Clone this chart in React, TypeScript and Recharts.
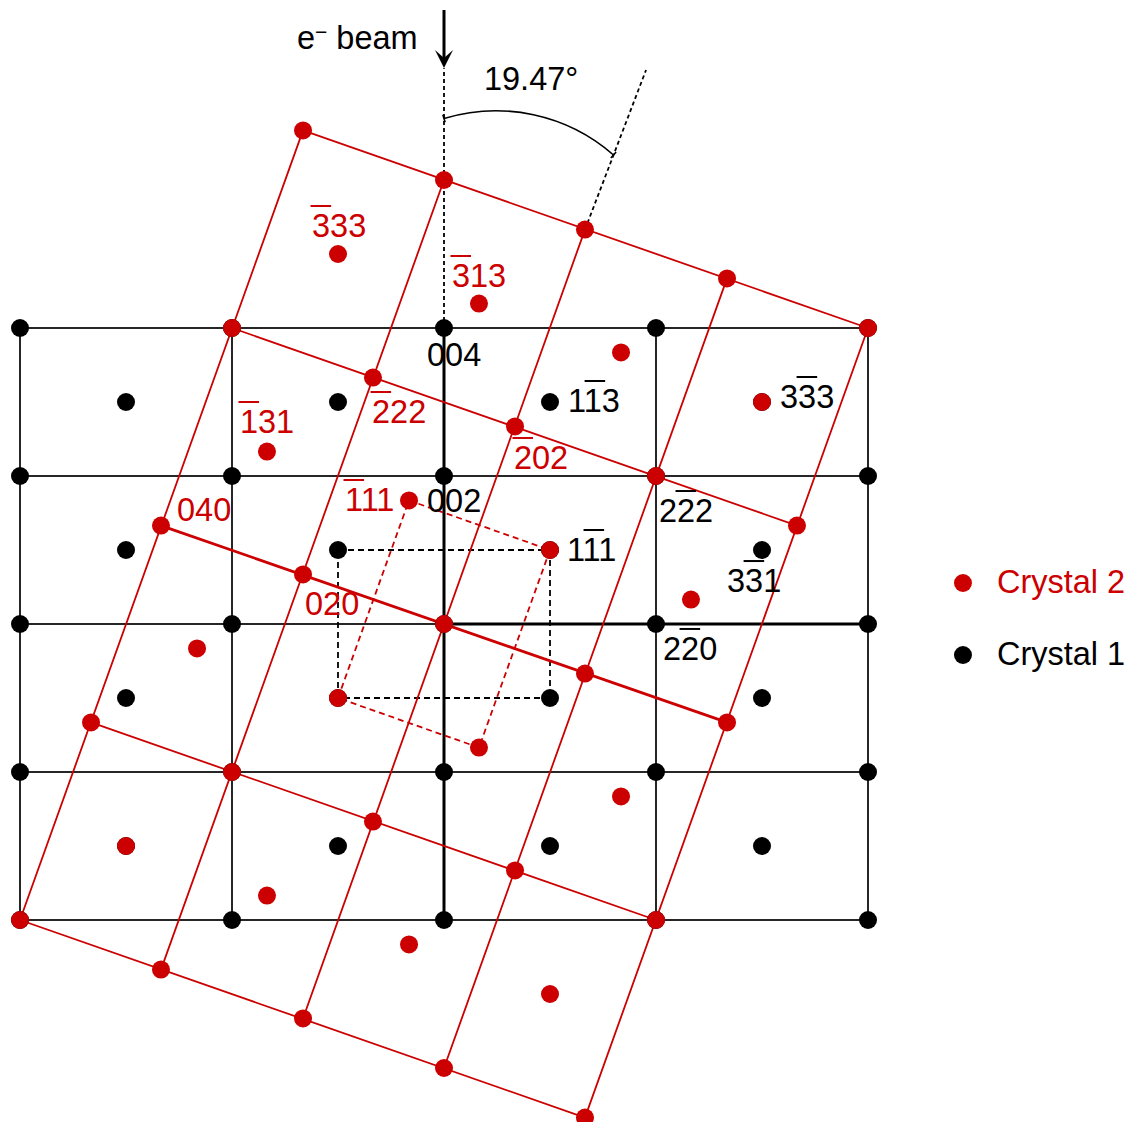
import React from "react";
import { Scatter, ScatterChart, XAxis, YAxis } from "recharts";

const RED = "#cc0000";
const BLACK = "#000000";
const GRID = "#262626";
const FONT = '"Liberation Sans", Arial, Helvetica, sans-serif';
const FONT_SIZE = 32.5;
const DIGIT_W = FONT_SIZE * 0.556;

// plot window in lattice units (x: 2-20 spot at x = 2, y: 004 spot at y = 4)
const X_DOMAIN: [number, number] = [-4.1887, 6.5189];
const Y_DOMAIN: [number, number] = [-6.7297, 8.4324];

// crystal 1 (black): reflections at the grid nodes and cell centres
const crystal1Spots = [
  [-4, 4], [-2, 4], [0, 4], [2, 4], [4, 4],
  [-4, 2], [-2, 2], [0, 2], [2, 2], [4, 2],
  [-4, 0], [-2, 0], [0, 0], [2, 0], [4, 0],
  [-4, -2], [-2, -2], [0, -2], [2, -2], [4, -2],
  [-4, -4], [-2, -4], [0, -4], [2, -4], [4, -4],
  [-3, 3], [-1, 3], [1, 3], [3, 3],
  [-3, 1], [-1, 1], [1, 1], [3, 1],
  [-3, -1], [-1, -1], [1, -1], [3, -1],
  [-3, -3], [-1, -3], [1, -3], [3, -3],
];

// crystal 2 (red): twin, tilted 19.47° from the beam
const crystal2Spots = [
  [-4, -4], [-3.33, -1.33], [-2.67, 1.33], [-2, 4], [-1.33, 6.67],
  [-2.67, -4.67], [-2, -2], [-1.33, 0.67], [-0.67, 3.33], [0, 6],
  [-1.33, -5.33], [-0.67, -2.67], [0, 0], [0.67, 2.67], [1.33, 5.33],
  [0, -6], [0.67, -3.33], [1.33, -0.67], [2, 2], [2.67, 4.67],
  [1.33, -6.67], [2, -4], [2.67, -1.33], [3.33, 1.33], [4, 4],
  [-3, -3], [-2.33, -0.33], [-1.67, 2.33], [-1, 5],
  [-1.67, -3.67], [-1, -1], [-0.33, 1.67], [0.33, 4.33],
  [-0.33, -4.33], [0.33, -1.67], [1, 1], [1.67, 3.67],
  [1, -5], [1.67, -2.33], [2.33, 0.33], [3, 3],
];

// line segments [x1, y1, x2, y2]
const crystal1Grid = [
  [-4, 4, 4, 4], [-4, 2, 4, 2], [-4, 0, 0, 0], [-4, -2, 4, -2], [-4, -4, 4, -4],
  [-4, -4, -4, 4], [-2, -4, -2, 4], [2, -4, 2, 4], [4, -4, 4, 4],
];
const crystal1Axes = [[0, -4, 0, 4], [0, 0, 4, 0]];
const crystal1Cell = [[-1, 1, 1, 1], [1, 1, 1, -1], [1, -1, -1, -1], [-1, -1, -1, 1]];
const guideLines = [[0, 4, 0, 7.51], [1.33, 5.33, 1.906, 7.486]];

const crystal2Grid = [
  [-4, -4, -1.33, 6.67], [-2.67, -4.67, 0, 6], [-1.33, -5.33, 1.33, 5.33],
  [0, -6, 2.67, 4.67], [1.33, -6.67, 4, 4],
  [-4, -4, 1.33, -6.67], [-3.33, -1.33, 2, -4], [-2, 4, 3.33, 1.33], [-1.33, 6.67, 4, 4],
];
const crystal2Axis = [[-2.67, 1.33, 2.67, -1.33]];
const crystal2Cell = [[-0.33, 1.67, 1, 1], [1, 1, 0.33, -1.67], [0.33, -1.67, -1, -1], [-1, -1, -0.33, 1.67]];

// bar = position of the digit carrying an overbar (-1 for none)
const crystal2Labels = [
  { x: -1.245, y: 5.23, text: "333", bar: 0 },
  { x: 0.075, y: 4.554, text: "313", bar: 0 },
  { x: -1.925, y: 2.581, text: "131", bar: 0 },
  { x: -0.679, y: 2.716, text: "222", bar: 0 },
  { x: 0.66, y: 2.095, text: "202", bar: 0 },
  { x: -0.934, y: 1.527, text: "111", bar: 0 },
  { x: -2.519, y: 1.392, text: "040", bar: -1 },
  { x: -1.311, y: 0.122, text: "020", bar: -1 },
];
const crystal1Labels = [
  { x: -0.16, y: 3.486, text: "004", bar: -1 },
  { x: -0.16, y: 1.514, text: "002", bar: -1 },
  { x: 1.17, y: 2.865, text: "113", bar: 1 },
  { x: 1.16, y: 0.851, text: "111", bar: 1 },
  { x: 3.17, y: 2.919, text: "333", bar: 1 },
  { x: 2.028, y: 1.378, text: "222", bar: 1 },
  { x: 2.67, y: 0.432, text: "331", bar: 1 },
  { x: 2.066, y: -0.486, text: "220", bar: 1 },
];

const beamArrow = [{ x: 0, y: 8.297 }, { x: 0, y: 7.514 }];
const tiltArc = [{ x: 0, y: 6.831 }, { x: 1.599, y: 6.338 }];
const ARC_RADIUS_RATIO = 1.03;
const notes = [
  { x: -1.387, y: 7.77, kind: "beam", text: "beam" },
  { x: 0.377, y: 7.216, kind: "angle", text: "19.47°" },
];
const legendItems = [
  { x: 4.896, y: 0.554, name: "Crystal 2" },
  { x: 4.896, y: -0.419, name: "Crystal 1" },
];

const toPoints = (spots: number[][]) => spots.map(([x, y]) => ({ x, y }));
const segmentPoints = (segs: number[][]) =>
  segs.flatMap(([x1, y1, x2, y2]) => [{ x: x1, y: y1 }, { x: x2, y: y2 }]);

const noShape = () => <g />;

function segments(style: React.SVGProps<SVGPathElement>) {
  return (props: any) => {
    const pts = props.points || [];
    let d = "";
    for (let i = 0; i + 1 < pts.length; i += 2) {
      d += `M${pts[i].x},${pts[i].y}L${pts[i + 1].x},${pts[i + 1].y}`;
    }
    return <path d={d} fill="none" {...style} />;
  };
}

function dot(color: string) {
  return (p: any) => <circle cx={p.cx} cy={p.cy} r={9} fill={color} />;
}

function spotLabel(color: string) {
  return (p: any) => {
    const { text, bar } = p.payload;
    return (
      <g>
        <text x={p.cx} y={p.cy} fill={color} fontSize={FONT_SIZE} fontFamily={FONT}>
          {text}
        </text>
        {bar >= 0 ? (
          <line
            x1={p.cx + bar * DIGIT_W - 1.5}
            x2={p.cx + (bar + 1) * DIGIT_W + 1}
            y1={p.cy - 31}
            y2={p.cy - 31}
            stroke={color}
            strokeWidth={2}
          />
        ) : null}
      </g>
    );
  };
}

function renderArrow(props: any) {
  const [top, tip] = props.points;
  return (
    <g>
      <line x1={top.x} y1={top.y} x2={tip.x} y2={tip.y - 8} stroke={BLACK} strokeWidth={3} />
      <path
        d={`M${tip.x},${tip.y}L${tip.x - 9},${tip.y - 18}L${tip.x},${tip.y - 10}L${tip.x + 9},${tip.y - 18}Z`}
        fill={BLACK}
      />
    </g>
  );
}

function renderArc(props: any) {
  const [a, b] = props.points;
  const dx = b.x - a.x;
  const dy = b.y - a.y;
  const chord = Math.hypot(dx, dy);
  const r = chord * ARC_RADIUS_RATIO;
  const ux = dx / chord;
  const uy = dy / chord;
  const off = Math.sqrt(r * r - (chord / 2) * (chord / 2));
  const cx = (a.x + b.x) / 2 - uy * off;
  const cy = (a.y + b.y) / 2 + ux * off;
  const tick = (p: any) => {
    const vx = (p.x - cx) / r;
    const vy = (p.y - cy) / r;
    return `M${p.x - vx * 4},${p.y - vy * 4}L${p.x + vx * 4},${p.y + vy * 4}`;
  };
  return (
    <path
      d={`M${a.x},${a.y}A${r},${r} 0 0 1 ${b.x},${b.y}${tick(a)}${tick(b)}`}
      fill="none"
      stroke={BLACK}
      strokeWidth={1.6}
    />
  );
}

function noteShape(p: any) {
  const { kind, text } = p.payload;
  if (kind === "beam") {
    return (
      <text x={p.cx} y={p.cy} fontSize={FONT_SIZE} fontFamily={FONT} fill={BLACK}>
        e
        <tspan fontSize={21} dy={-10}>
          −
        </tspan>
        <tspan fontSize={FONT_SIZE} dy={10}>
          {" " + text}
        </tspan>
      </text>
    );
  }
  return (
    <text x={p.cx} y={p.cy} fontSize={FONT_SIZE} fontFamily={FONT} fill={BLACK}>
      {text}
    </text>
  );
}

function legendShape(p: any) {
  const color = p.payload.name === "Crystal 2" ? RED : BLACK;
  return (
    <g>
      <circle cx={p.cx} cy={p.cy} r={9} fill={color} />
      <text x={p.cx + 34} y={p.cy + 10} fontSize={FONT_SIZE} fontFamily={FONT} fill={color}>
        {p.payload.name}
      </text>
    </g>
  );
}

export default function App() {
  return (
    <div style={{ position: "absolute", left: 0, top: 0, background: "#fff" }}>
      <ScatterChart width={1135} height={1122} margin={{ top: 0, right: 0, bottom: 0, left: 0 }}>
        <XAxis type="number" dataKey="x" domain={X_DOMAIN} allowDataOverflow hide />
        <YAxis type="number" dataKey="y" domain={Y_DOMAIN} allowDataOverflow hide />

        <Scatter data={segmentPoints(crystal1Grid)} shape={noShape} line={segments({ stroke: GRID, strokeWidth: 2 })} isAnimationActive={false} />
        <Scatter data={segmentPoints(crystal1Axes)} shape={noShape} line={segments({ stroke: BLACK, strokeWidth: 3 })} isAnimationActive={false} />
        <Scatter data={segmentPoints(crystal1Cell)} shape={noShape} line={segments({ stroke: BLACK, strokeWidth: 1.8, strokeDasharray: "6 4" })} isAnimationActive={false} />
        <Scatter data={segmentPoints(guideLines)} shape={noShape} line={segments({ stroke: BLACK, strokeWidth: 1.8, strokeDasharray: "4 3" })} isAnimationActive={false} />
        <Scatter data={segmentPoints(crystal2Grid)} shape={noShape} line={segments({ stroke: RED, strokeWidth: 1.8 })} isAnimationActive={false} />
        <Scatter data={segmentPoints(crystal2Axis)} shape={noShape} line={segments({ stroke: RED, strokeWidth: 2.8 })} isAnimationActive={false} />
        <Scatter data={segmentPoints(crystal2Cell)} shape={noShape} line={segments({ stroke: RED, strokeWidth: 1.8, strokeDasharray: "6 4" })} isAnimationActive={false} />
        <Scatter data={beamArrow} shape={noShape} line={renderArrow} isAnimationActive={false} />
        <Scatter data={tiltArc} shape={noShape} line={renderArc} isAnimationActive={false} />

        <Scatter name="Crystal 1" data={toPoints(crystal1Spots)} shape={dot(BLACK)} isAnimationActive={false} />
        <Scatter name="Crystal 2" data={toPoints(crystal2Spots)} shape={dot(RED)} isAnimationActive={false} />

        <Scatter data={crystal2Labels} shape={spotLabel(RED)} isAnimationActive={false} />
        <Scatter data={crystal1Labels} shape={spotLabel(BLACK)} isAnimationActive={false} />
        <Scatter data={notes} shape={noteShape} isAnimationActive={false} />
        <Scatter data={legendItems} shape={legendShape} isAnimationActive={false} />
      </ScatterChart>
    </div>
  );
}
